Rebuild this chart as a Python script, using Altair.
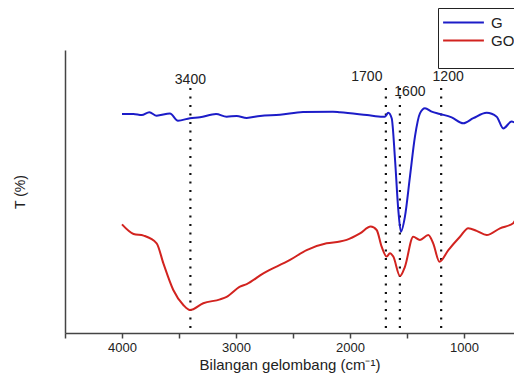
import altair as alt
import pandas as pd

# Spectrum G (graphite)
g_wn = [4000, 3900, 3827, 3760, 3696, 3579, 3509, 3404, 3316, 3175, 3082, 2994, 2906,
        2789, 2614, 2412, 2149, 2088, 1851, 1713, 1693, 1664, 1634, 1605, 1576, 1553,
        1518, 1474, 1430, 1386, 1342, 1283, 1211, 1108, 1006, 918, 801, 713, 655, 582, 494]
g_t = [77.4, 77.4, 77.0, 78.0, 76.8, 77.6, 75.0, 75.9, 76.2, 77.4, 76.4, 76.7, 76.0,
       76.7, 77.1, 78.1, 78.2, 78.0, 77.0, 76.4, 76.4, 77.8, 75.9, 61.5, 43.5, 35.8,
       41.1, 55.2, 69.4, 77.6, 79.4, 78.2, 77.4, 76.2, 74.1, 75.9, 77.8, 76.4, 72.3, 74.7, 72.3]

# Spectrum GO (graphene oxide)
go_wn = [4000, 3898, 3810, 3696, 3637, 3550, 3462, 3404, 3287, 3140, 3082, 2965, 2906,
         2760, 2526, 2380, 2205, 2088, 2029, 1912, 1818, 1766, 1722, 1678, 1649, 1620,
         1561, 1518, 1445, 1386, 1313, 1270, 1215, 1137, 1035, 962, 889, 801, 684, 568, 494]
go_t = [38.4, 35.0, 34.4, 31.7, 24.6, 15.2, 9.9, 8.1, 10.5, 11.9, 12.8, 16.4, 17.3,
        21.1, 25.8, 29.3, 31.7, 32.3, 32.9, 35.2, 37.6, 36.4, 30.5, 27.0, 28.2, 27.0,
        20.1, 23.4, 34.0, 32.9, 34.6, 31.7, 25.2, 29.3, 34.0, 37.0, 36.1, 34.6, 37.0, 38.8, 47.0]

series_names = ["G", "GO"]
series_colors = ["#1c1cc8", "#d2231f"]

# Marked peaks
peak_pos = [3400, 1685, 1562, 1200]
peak_labels = ["3400", "1700", "1600", "1200"]
peak_top = 86.6

x_ticks = [4500, 4000, 3500, 3000, 2500, 2000, 1500, 1000]

df = pd.concat([
    pd.DataFrame({"wn": g_wn, "T": g_t, "series": "G"}),
    pd.DataFrame({"wn": go_wn, "T": go_t, "series": "GO"}),
])
peaks = pd.DataFrame({"wn": peak_pos, "label": peak_labels, "top": peak_top, "bottom": 0})

FONT = "Liberation Sans"

xscale = alt.Scale(domain=[4500, 561], nice=False, zero=False)
yscale = alt.Scale(domain=[0, 100], nice=False)

lines = alt.Chart(df).mark_line(strokeWidth=2, interpolate="monotone", clip=True).encode(
    x=alt.X("wn:Q", scale=xscale,
            axis=alt.Axis(title="Bilangan gelombang (cm\u207B\u00B9)", values=x_ticks,
                          labelExpr="datum.value % 1000 == 0 ? datum.label : ''",
                          format="d", grid=False, tickSize=5, tickWidth=1.5,
                          tickColor="#444", domainColor="#444", domainWidth=1.5,
                          labelFontSize=13, labelFont=FONT, labelColor="#222",
                          labelPadding=3, titleFontSize=15, titleFont=FONT,
                          titleFontWeight="normal", titleColor="#222", titlePadding=3)),
    y=alt.Y("T:Q", scale=yscale,
            axis=alt.Axis(title="T (%)", labels=False, ticks=False, grid=False,
                          domainColor="#444", domainWidth=1.5, titleFontSize=14,
                          titleFont=FONT, titleFontWeight="normal", titleColor="#222",
                          titlePadding=38)),
    color=alt.Color("series:N", scale=alt.Scale(domain=series_names, range=series_colors),
                    legend=alt.Legend(title=" ", titleOrient="bottom", titleFontSize=12,
                                      titlePadding=3,
                                      orient="none", legendX=373, legendY=-42,
                                      strokeColor="#222", fillColor="white", padding=5,
                                      symbolType="M-2.4,0H2.4", symbolSize=289,
                                      symbolOffset=11,
                                      symbolStrokeWidth=2, labelFontSize=15,
                                      labelFont=FONT, labelColor="#222",
                                      labelOffset=18, rowPadding=0, cornerRadius=0)),
    order=alt.Order("wn:Q", sort="descending"),
)

rules = alt.Chart(peaks).mark_rule(color="#111", strokeWidth=2.2,
                                   strokeDash=[2, 6.5]).encode(
    x=alt.X("wn:Q", scale=xscale),
    y=alt.Y("top:Q", scale=yscale),
    y2="bottom:Q",
)

def label(i, dx, dy):
    return alt.Chart(peaks.iloc[[i]]).mark_text(
        fontSize=14, font=FONT, color="#222", dx=dx, dy=dy, baseline="middle"
    ).encode(x=alt.X("wn:Q", scale=xscale), y=alt.Y("top:Q", scale=yscale), text="label:N")

chart = alt.layer(
    rules, lines,
    label(0, 0, -8), label(1, -19, -11), label(2, 10, 4), label(3, 7, -11),
).properties(
    width=449, height=283,
    autosize=alt.AutoSizeParams(type="none"),
    padding={"left": 57, "top": 42, "right": 0, "bottom": 42},
).configure_view(stroke=None)

chart.save("out.html", embed_options={"renderer": "svg", "actions": False})
